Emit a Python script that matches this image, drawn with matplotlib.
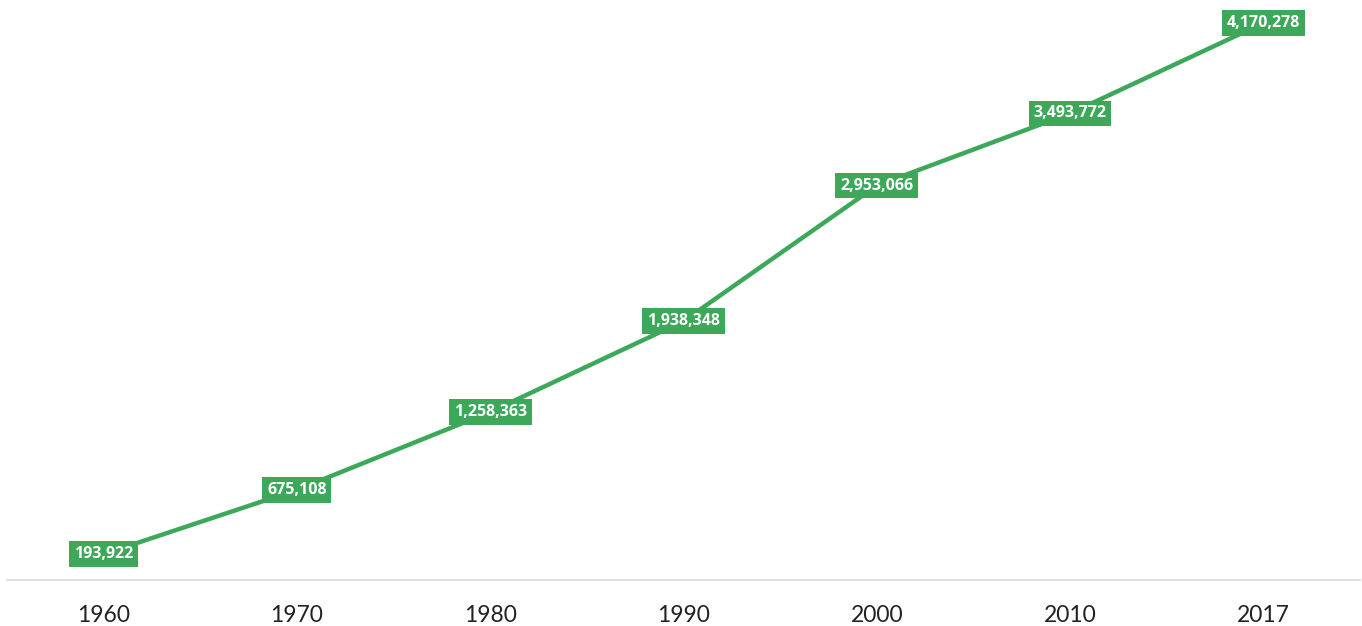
import matplotlib.pyplot as plt

years = ['1960', '1970', '1980', '1990', '2000', '2010', '2017']
population = [193922, 675108, 1258363, 1938348, 2953066, 3493772, 4170278]

green = '#3DA85A'

fig = plt.figure(figsize=(13.62, 6.26), dpi=100)
ax = fig.add_axes([7 / 1362, 46 / 626, 1353 / 1362, 580 / 626])

x = range(len(years))
ax.plot(x, population, color=green, linewidth=3.2, solid_capstyle='butt', zorder=2)

for i, v in zip(x, population):
    ax.text(i, v, f'{v:,}', ha='center', va='center', color='white',
            fontsize=11.5, fontweight='bold', family='Open Sans', zorder=3,
            bbox=dict(boxstyle='square,pad=0.3', facecolor=green, edgecolor='none'))

ax.set_xlim(-0.5, len(years) - 0.5)
ax.set_ylim(0, 4343000)
ax.set_xticks(list(x))
ax.set_xticklabels(years, fontsize=16.5, color='#222222', family='Lato', fontweight='normal')
ax.tick_params(axis='x', length=0, pad=18)
ax.set_yticks([])

for side in ['top', 'right', 'left']:
    ax.spines[side].set_visible(False)
ax.spines['bottom'].set_color('#d9d9d9')
ax.spines['bottom'].set_linewidth(1.2)

fig.savefig('out.png', dpi=100)
